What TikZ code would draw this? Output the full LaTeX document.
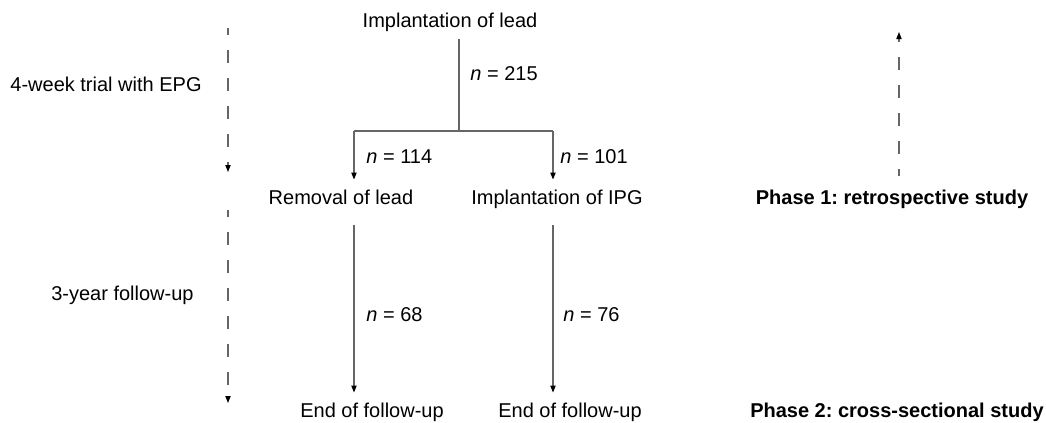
\documentclass[tikz,border=0pt]{standalone}
\usepackage{fontspec}
\setmainfont{Liberation Sans}
\usepackage{xcolor}
\usetikzlibrary{positioning, arrows.meta}
\frenchspacing

\begin{document}
\begin{tikzpicture}[
  x=0.5pt, y=-0.5pt,
  every node/.style={font=\fontsize{10}{12}\selectfont},
  txt/.style={inner sep=0pt, outer sep=5pt, text height=7.2pt, text depth=2.1pt, anchor=base},
  nlab/.style={inner sep=0pt, anchor=base west},
  side/.style={inner sep=0pt, anchor=base east},
  phase/.style={inner sep=0pt, anchor=base, font=\fontsize{10}{12}\selectfont\bfseries},
  line/.style={draw=black!60, line width=0.6pt},
  arrow/.style={line, -{Triangle[length=3.5pt, width=2.6pt, color=black]}},
  dasharrow/.style={arrow, dash pattern=on 6.5pt off 7.5pt, dash phase=3pt},
]
\useasboundingbox (0,0) rectangle (1046,423);

% Top
\node[txt] (impl) at (450,27) {Implantation of lead};

% Second row
\node[txt] (removal) at (341,204) {Removal of lead};
\node[txt] (ipg) at (557,204) {Implantation of IPG};

% End row
\node[txt] (endL) at (372,417) {End of follow-up};
\node[txt] (endR) at (570,417) {End of follow-up};

% Fork
\coordinate (fork) at (459,131);
\coordinate (colL) at (354,131);
\coordinate (colR) at (553,131);

\draw[line, shorten <=-1pt] (impl.south -| fork) -- (fork);
\draw[line] (colL) -- (colR);
\draw[arrow] (colL) -- (removal.north -| colL);
\draw[arrow] (colR) -- (ipg.north -| colR);
\draw[arrow, shorten <=3.5pt] (removal.south -| colL) -- (endL.north -| colL);
\draw[arrow, shorten <=3.5pt] (ipg.south -| colR) -- (endR.north -| colR);

% Counts
\node[nlab] (n215) at (470,80) {\textit{n} = 215};
\node[nlab] (n114) at (366,163) {\textit{n} = 114};
\node[nlab] (n101) at (560,163) {\textit{n} = 101};
\node[nlab] (n68) at (366,321) {\textit{n} = 68};
\node[nlab] (n76) at (563,321) {\textit{n} = 76};

% Time line (left)
\node[side] (trial) at (202,91) {4-week trial with EPG};
\node[side] (follow) at (194,300) {3-year follow-up};
\coordinate (trialTop) at (228,28);
\coordinate (trialEnd) at (228,172);
\coordinate (followTop) at (228,210);
\coordinate (followEnd) at (228,403);
\draw[dasharrow] (trialTop) -- (trialEnd);
\draw[dasharrow] (followTop) -- (followEnd);

% Phases (right)
\node[phase] (phase1) at (892,204) {Phase 1: retrospective study};
\node[phase] (phase2) at (897,417) {Phase 2: cross-sectional study};
\coordinate (retroBot) at (899,176);
\coordinate (retroTop) at (899,32);
\draw[dasharrow] (retroBot) -- (retroTop);

\end{tikzpicture}
\end{document}
